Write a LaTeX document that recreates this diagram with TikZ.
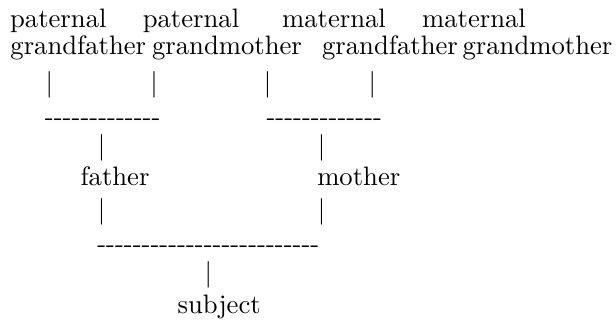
\documentclass[tikz,border=0pt]{standalone}
\usepackage{tikz}

\tikzset{
	kin/.style={anchor=base, inner sep=0pt, outer sep=0pt},
}
% a row of single hyphens, kept apart so they do not join into dashes
\newcommand{\hyphenrow}[1]{\foreach \k in {1,...,#1}{\mbox{-}}}

\begin{document}
\begin{tikzpicture}[x=0.375pt, y=-0.375pt]
		\useasboundingbox (0,0) rectangle (616,323);
		% grandparents
		\node[kin] (pgfA) at (58.3,27.3)  {paternal};
		\node[kin] (pgmA) at (191,27.3)   {paternal};
		\node[kin] (mgfA) at (334,27.3)   {maternal};
		\node[kin] (mgmA) at (474,27.3)   {maternal};
		\node[kin] (pgf)  at (78.3,55)    {grandfather};
		\node[kin] (pgm)  at (227,55)     {grandmother};
		\node[kin] (mgf)  at (390,55)     {grandfather};
		\node[kin] (mgm)  at (537.5,55)   {grandmother};
		\foreach \x/\n in {49.3/pgf, 154/pgm, 267.7/mgf, 372.3/mgm}
			\node[kin] (bar-\n) at (\x,91.6) {\textbar};
		\node[kin] (pline) at (102.7,125.5) {\hyphenrow{13}};
		\node[kin] (mline) at (324.3,125.5) {\hyphenrow{13}};
		% parents
		\node[kin] (bar-fu) at (101.7,155) {\textbar};
		\node[kin] (bar-mu) at (321.7,155) {\textbar};
		\node[kin] (father) at (115,186)   {father};
		\node[kin] (mother) at (358.8,186) {mother};
		\node[kin] (bar-fd) at (101.7,218.3) {\textbar};
		\node[kin] (bar-md) at (321.7,218.3) {\textbar};
		\node[kin] (cline)  at (208.3,252.2) {\hyphenrow{25}};
		% subject
		\node[kin] (bar-s)   at (208.3,281.6) {\textbar};
		\node[kin] (subject) at (219.2,313.3) {subject};
\end{tikzpicture}
\end{document}
